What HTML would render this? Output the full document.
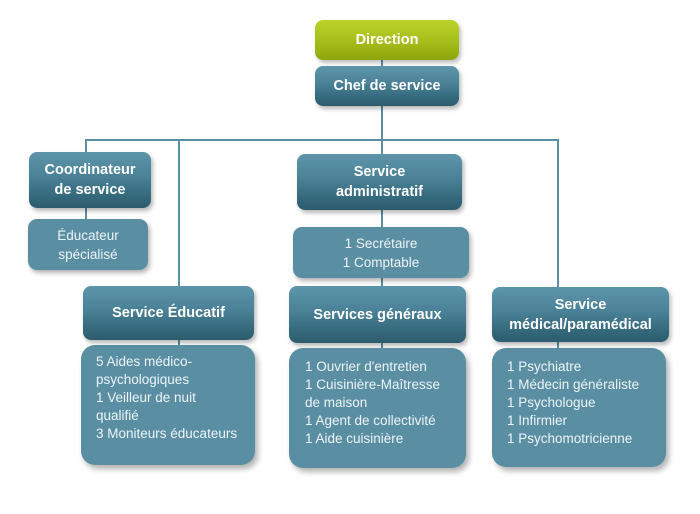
<!DOCTYPE html>
<html>
<head>
<meta charset="utf-8">
<style>
  html,body{margin:0;padding:0;background:#fff;}
  body{width:700px;height:514px;position:relative;overflow:hidden;font-family:"Liberation Sans","DejaVu Sans",sans-serif;}
  .b{position:absolute;box-sizing:border-box;color:#fff;display:flex;align-items:center;justify-content:center;text-align:center;}
  .h{border-radius:8px;background:linear-gradient(to bottom,#5d95aa 0%,#4a8196 45%,#34687b 80%,#2d5c6e 100%);font-weight:bold;font-size:14.5px;line-height:20px;box-shadow:2px 3px 4px rgba(0,0,0,0.28);}
  .g{border-radius:8px;background:linear-gradient(to bottom,#bcd22c 0%,#a8c01c 50%,#8ea60d 100%);font-weight:bold;font-size:14.5px;box-shadow:2px 3px 4px rgba(0,0,0,0.25);}
  .c{border-radius:9px;background:#5a8fa3;font-size:13.5px;line-height:19px;color:#eef4f7;box-shadow:2px 3px 5px rgba(0,0,0,0.3);}
  .l{border-radius:14px;background:#5a8fa3;font-size:13.5px;line-height:18px;color:#eef4f7;box-shadow:3px 4px 6px rgba(0,0,0,0.3);justify-content:flex-start;align-items:flex-start;text-align:left;white-space:nowrap;}
</style>
</head>
<body>
<svg width="700" height="514" style="position:absolute;left:0;top:0" xmlns="http://www.w3.org/2000/svg">
  <g stroke="#5b8fa3" stroke-width="2" fill="none">
    <line x1="382" y1="58" x2="382" y2="156"/>
    <line x1="86" y1="140" x2="559" y2="140"/>
    <line x1="86" y1="139" x2="86" y2="154"/>
    <line x1="86" y1="206" x2="86" y2="221"/>
    <line x1="179" y1="139" x2="179" y2="288"/>
    <line x1="558" y1="139" x2="558" y2="289"/>
    <line x1="382" y1="208" x2="382" y2="229"/>
    <line x1="382" y1="276" x2="382" y2="289"/>
    <line x1="382" y1="341" x2="382" y2="350"/>
    <line x1="179" y1="338" x2="179" y2="347"/>
    <line x1="558" y1="340" x2="558" y2="350"/>
  </g>
</svg>

<div class="b g" style="left:315px;top:20px;width:144px;height:40px;">Direction</div>
<div class="b h" style="left:315px;top:66px;width:144px;height:40px;">Chef de service</div>

<div class="b h" style="left:29px;top:152px;width:122px;height:56px;">Coordinateur<br>de service</div>
<div class="b c" style="left:28px;top:219px;width:120px;height:51px;">Éducateur<br>spécialisé</div>

<div class="b h" style="left:297px;top:154px;width:165px;height:56px;">Service<br>administratif</div>
<div class="b c" style="left:293px;top:227px;width:176px;height:51px;">1 Secrétaire<br>1 Comptable</div>

<div class="b h" style="left:83px;top:286px;width:171px;height:54px;">Service Éducatif</div>
<div class="b h" style="left:289px;top:286px;width:177px;height:57px;">Services généraux</div>
<div class="b h" style="left:492px;top:287px;width:177px;height:55px;">Service<br>médical/paramédical</div>

<div class="b l" style="left:81px;top:345px;width:174px;height:120px;padding:8px 0 0 15px;">5 Aides médico-<br>psychologiques<br>1 Veilleur de nuit<br>qualifié<br>3 Moniteurs éducateurs</div>
<div class="b l" style="left:289px;top:348px;width:177px;height:120px;padding:10px 0 0 16px;">1 Ouvrier d'entretien<br>1 Cuisinière-Maîtresse<br>de maison<br>1 Agent de collectivité<br>1 Aide cuisinière</div>
<div class="b l" style="left:492px;top:348px;width:174px;height:119px;padding:10px 0 0 15px;">1 Psychiatre<br>1 Médecin généraliste<br>1 Psychologue<br>1 Infirmier<br>1 Psychomotricienne</div>
</body>
</html>
